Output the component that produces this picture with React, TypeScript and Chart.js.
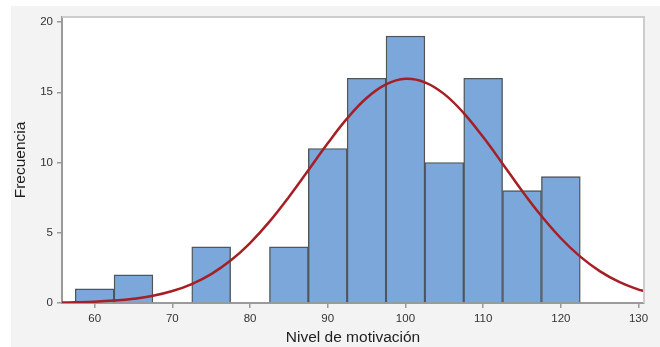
import React, { useEffect, useRef } from "react";
import { Chart, registerables } from "chart.js";

Chart.register(...registerables);

// Histogram bins (centres, width 5) and their frequencies
const binCenters = [60, 65, 75, 85, 90, 95, 100, 105, 110, 115, 120];
const binCounts = [1, 2, 4, 4, 11, 16, 19, 10, 16, 8, 9];

// Normal curve overlay
const curveX = [55.8, 57.5, 60, 62.5, 65, 67.5, 70, 72.5, 75, 77.5, 80, 82.5, 85, 87.5, 90, 92.5, 95, 97.5, 100, 102.5, 105, 107.5, 110, 112.5, 115, 117.5, 120, 122.5, 125, 127.5, 130, 130.7];
const curveY = [0.03, 0.05, 0.09, 0.17, 0.3, 0.51, 0.85, 1.35, 2.06, 3.02, 4.27, 5.79, 7.55, 9.45, 11.37, 13.14, 14.59, 15.56, 15.96, 15.71, 14.87, 13.52, 11.81, 9.92, 7.99, 6.19, 4.61, 3.3, 2.27, 1.5, 0.95, 0.85];

const xTicks = [60, 70, 80, 90, 100, 110, 120, 130];
const yTicks = [0, 5, 10, 15, 20];
const xRange = [55.8, 130.7];
const yRange = [0, 20.36];

const xTitle = "Nivel de motivación";
const yTitle = "Frecuencia";

const FONT = "'Liberation Sans', Arial, Helvetica, sans-serif";

const plotFrame = {
  id: "plotFrame",
  beforeDraw(chart: any) {
    const { ctx, chartArea: a } = chart;
    ctx.save();
    ctx.fillStyle = "#ffffff";
    ctx.fillRect(a.left, a.top, a.right - a.left, a.bottom - a.top);
    ctx.restore();
  },
  afterDraw(chart: any) {
    const { ctx, chartArea: a } = chart;
    ctx.save();
    ctx.strokeStyle = "#cdcdcd";
    ctx.lineWidth = 2;
    ctx.beginPath();
    ctx.moveTo(a.left, a.top);
    ctx.lineTo(a.right, a.top);
    ctx.lineTo(a.right, a.bottom);
    ctx.stroke();
    ctx.restore();
  },
};

export default function App() {
  const ref = useRef<HTMLCanvasElement | null>(null);

  useEffect(() => {
    if (!ref.current) return;
    const chart = new Chart(ref.current, {
      type: "bar",
      data: {
        datasets: [
          {
            type: "line",
            label: "Normal",
            data: curveX.map((x, i) => ({ x, y: curveY[i] })),
            borderColor: "#a51f24",
            borderWidth: 2.5,
            pointRadius: 0,
            tension: 0.4,
            fill: false,
            order: 0,
          } as any,
          {
            type: "bar",
            label: "Frecuencia",
            data: binCenters.map((x, i) => ({ x, y: binCounts[i] })),
            backgroundColor: "#7ba7db",
            borderColor: "#505559",
            borderWidth: 1.4,
            barPercentage: 1,
            categoryPercentage: 1,
            order: 1,
          } as any,
        ],
      },
      options: {
        responsive: false,
        animation: false,
        layout: { padding: { left: 0, top: 11, right: 16, bottom: 0 } },
        plugins: {
          legend: { display: false },
          tooltip: { enabled: false },
        },
        scales: {
          x: {
            type: "linear",
            min: xRange[0],
            max: xRange[1],
            offset: false,
            afterBuildTicks: (s: any) => {
              s.ticks = xTicks.map((v) => ({ value: v }));
            },
            afterFit: (s: any) => {
              s.height = 44;
            },
            grid: {
              drawOnChartArea: false,
              drawTicks: true,
              tickLength: 5,
              color: "#9a9a9a",
              lineWidth: 1.5,
              offset: false,
            },
            border: { color: "#9a9a9a", width: 2 },
            ticks: {
              font: { family: FONT, size: 11.5 },
              color: "#333333",
              padding: 4,
              maxRotation: 0,
              autoSkip: false,
            },
            title: {
              display: true,
              text: xTitle,
              font: { family: FONT, size: 15.5 },
              color: "#1e1e1e",
              padding: { top: 0, bottom: 0 },
            },
          },
          y: {
            type: "linear",
            min: yRange[0],
            max: yRange[1],
            afterBuildTicks: (s: any) => {
              s.ticks = yTicks.map((v) => ({ value: v }));
            },
            afterFit: (s: any) => {
              s.width = 51;
            },
            grid: {
              drawOnChartArea: false,
              drawTicks: true,
              tickLength: 5,
              color: "#9a9a9a",
              lineWidth: 1.5,
            },
            border: { color: "#9a9a9a", width: 2 },
            ticks: {
              font: { family: FONT, size: 11.5 },
              color: "#333333",
              padding: 4,
            },
            title: {
              display: true,
              text: yTitle,
              font: { family: FONT, size: 15.5 },
              color: "#1e1e1e",
              padding: { top: 0, bottom: 0 },
            },
          },
        },
      },
      plugins: [plotFrame],
    } as any);
    return () => chart.destroy();
  }, []);

  return (
    <div style={{ position: "fixed", left: 0, top: 0, width: 660, height: 347, background: "#ffffff", overflow: "hidden" }}>
      <div style={{ position: "absolute", left: 11, top: 6, width: 649, height: 341, background: "#f3f3f3" }}>
        <canvas ref={ref} width={649} height={341} style={{ display: "block", width: 649, height: 341 }} />
      </div>
    </div>
  );
}
